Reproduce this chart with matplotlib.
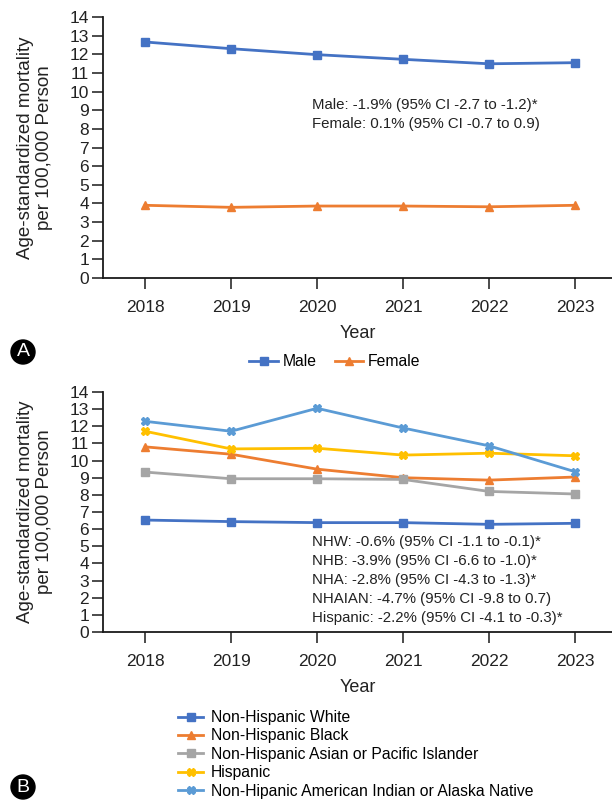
import matplotlib
matplotlib.use("Agg")
import matplotlib.pyplot as plt

plt.rcParams["font.family"] = ["Liberation Sans", "DejaVu Sans"]

years = [2018, 2019, 2020, 2021, 2022, 2023]

# panel A: by sex
male = [12.66, 12.30, 11.98, 11.73, 11.49, 11.55]
female = [3.90, 3.79, 3.86, 3.86, 3.82, 3.90]

# panel B: by race / ethnicity
nhw = [6.53, 6.44, 6.38, 6.38, 6.28, 6.34]
nhb = [10.80, 10.37, 9.50, 9.00, 8.86, 9.04]
nhapi = [9.33, 8.94, 8.94, 8.90, 8.20, 8.05]
hispanic = [11.71, 10.68, 10.72, 10.32, 10.43, 10.28]
nhaian = [12.29, 11.71, 13.05, 11.90, 10.86, 9.35]

notes_a = ["Male: -1.9% (95% CI -2.7 to -1.2)*",
           "Female: 0.1% (95% CI -0.7 to 0.9)"]
notes_b = ["NHW: -0.6% (95% CI -1.1 to -0.1)*",
           "NHB: -3.9% (95% CI -6.6 to -1.0)*",
           "NHA: -2.8% (95% CI -4.3 to -1.3)*",
           "NHAIAN: -4.7% (95% CI -9.8 to 0.7)",
           "Hispanic: -2.2% (95% CI -4.1 to -0.3)*"]

BLUE = "#4472C4"
ORANGE = "#ED7D31"
GRAY = "#A5A5A5"
YELLOW = "#FFC000"
LBLUE = "#5B9BD5"
TXT = "#222222"

W, H = 612, 801
fig = plt.figure(figsize=(W / 100, H / 100), dpi=100)


def px_axes(left, top, right, bottom):
    return fig.add_axes([left / W, 1 - bottom / H, (right - left) / W, (bottom - top) / H])


def style_axes(ax):
    ax.set_xlim(2017.51, 2023.43)
    ax.set_ylim(0, 14)
    ax.set_yticks(range(0, 15))
    ax.set_xticks(years)
    ax.spines["top"].set_visible(False)
    ax.spines["right"].set_visible(False)
    for s in ("left", "bottom"):
        ax.spines[s].set_linewidth(1.3)
        ax.spines[s].set_color("#1a1a1a")
    ax.tick_params(axis="both", direction="out", length=8, width=1.1, color="#1a1a1a",
                   labelsize=12.5, labelcolor=TXT)
    ax.tick_params(axis="y", pad=2)
    ax.tick_params(axis="x", pad=8)
    ax.set_xlabel("Year", fontsize=13, color=TXT, labelpad=7)
    ax.set_ylabel("Age-standardized mortality\nper 100,000 Person", fontsize=13.5,
                  color=TXT, labelpad=12, linespacing=1.15)


def circle_label(x, y, letter):
    fig.text(x / W, 1 - y / H, letter, ha="center", va="center", color="white",
             fontsize=14, bbox=dict(boxstyle="circle,pad=0.18", fc="black", ec="black"))


# ---- panel A ----
ax1 = px_axes(103, 17, 612, 278)
ax1.plot(years, male, color=BLUE, marker="s", markersize=6, linewidth=2, label="Male")
ax1.plot(years, female, color=ORANGE, marker="^", markersize=6, linewidth=2, label="Female")
style_axes(ax1)
for i, t in enumerate(notes_a):
    fig.text(312 / W, 1 - (105 + 19 * i) / H, t, fontsize=10.8, color=TXT, va="center")
ax1.legend(loc="center", bbox_to_anchor=(335 / W, 1 - 362 / H), bbox_transform=fig.transFigure,
           ncol=2, frameon=False, fontsize=11.3, handlelength=1.8, handletextpad=0.3,
           columnspacing=1.2)
circle_label(23, 352, "A")

# ---- panel B ----
ax2 = px_axes(103, 392, 612, 632)
series_b = [
    (nhw, BLUE, "s", "Non-Hispanic White"),
    (nhb, ORANGE, "^", "Non-Hispanic Black"),
    (nhapi, GRAY, "s", "Non-Hispanic Asian or Pacific Islander"),
    (hispanic, YELLOW, "X", "Hispanic"),
    (nhaian, LBLUE, "X", "Non-Hipanic American Indian or Alaska Native"),
]
for vals, col, mk, lab in series_b:
    ax2.plot(years, vals, color=col, marker=mk, markersize=6, linewidth=2, label=lab)
style_axes(ax2)
for i, t in enumerate(notes_b):
    fig.text(312 / W, 1 - (542 + 19 * i) / H, t, fontsize=10.8, color=TXT, va="center")
ax2.legend(loc="upper left", bbox_to_anchor=(178 / W, 1 - 710 / H), bbox_transform=fig.transFigure,
           ncol=1, frameon=False, fontsize=11.3, handlelength=1.6, handletextpad=0.5,
           labelspacing=0.22, borderpad=0, borderaxespad=0)
circle_label(23, 787, "B")

fig.savefig("out.png", dpi=100)
